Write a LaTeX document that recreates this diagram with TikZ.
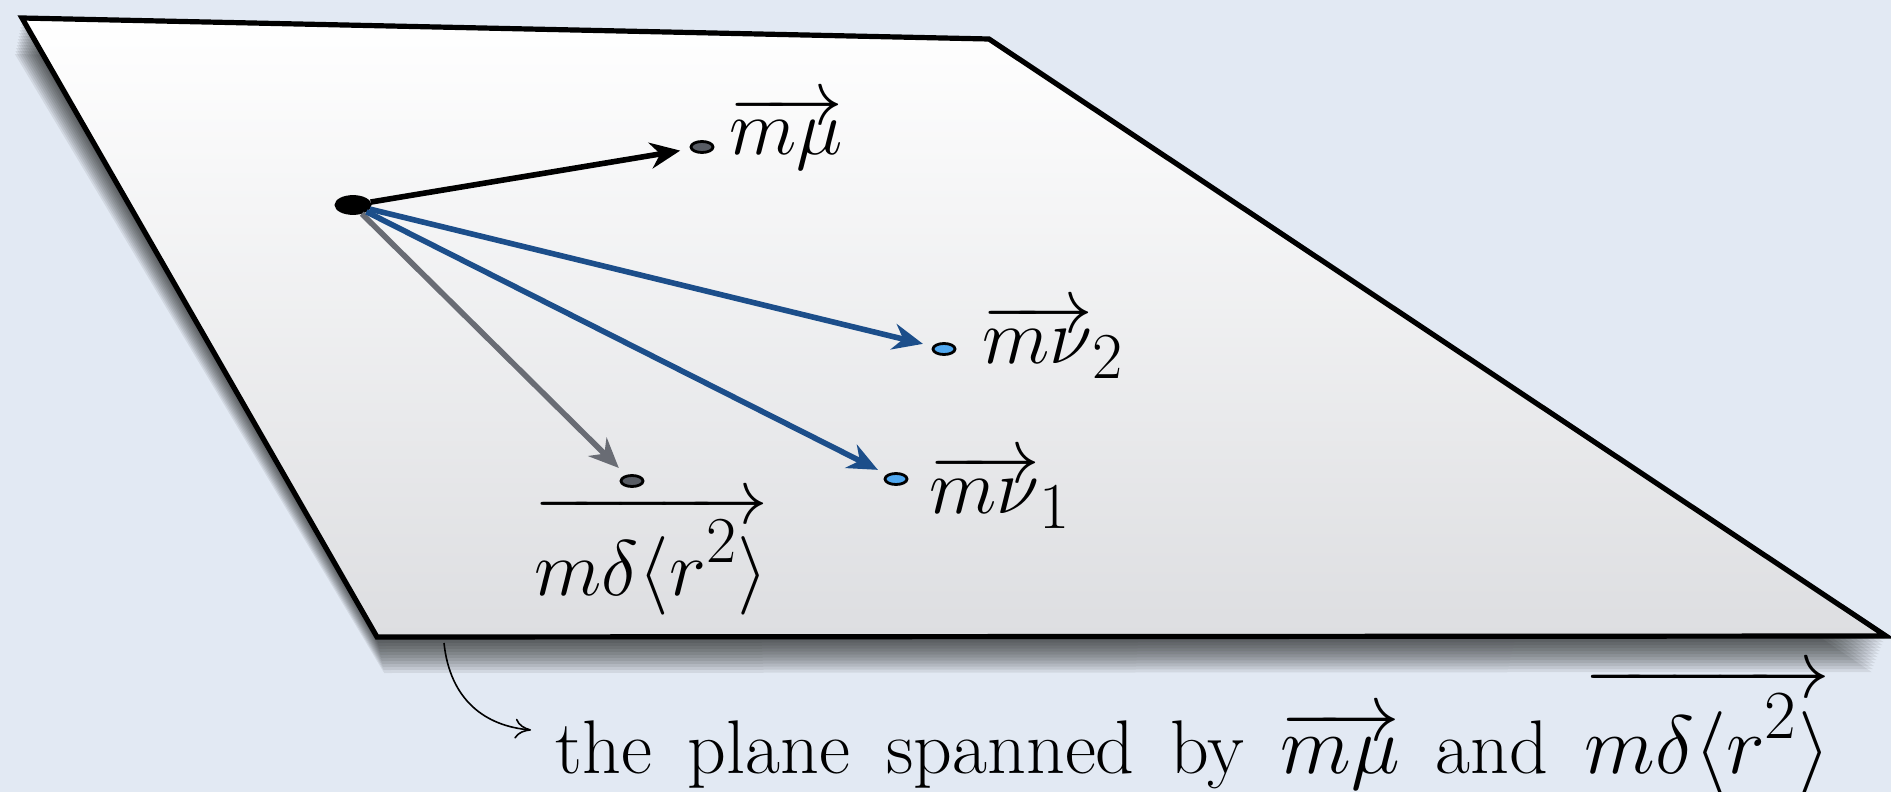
\documentclass[tikz,border=0pt]{standalone}
\usepackage{graphicx}
\usetikzlibrary{arrows.meta,shapes.geometric}
\definecolor{bgpaper}{RGB}{226,233,243}
\definecolor{planebot}{RGB}{221,222,225}
\definecolor{nublue}{RGB}{28,78,138}
\definecolor{nufill}{RGB}{80,168,240}
\definecolor{dotgray}{RGB}{88,92,100}
\definecolor{arrgray}{RGB}{105,108,116}
\newcommand\bigmath[1]{{\fontsize{24.88}{28}\selectfont\scalebox{1.58}{$#1$}}}
\newcommand\capmath[1]{{\fontsize{24.88}{28}\selectfont\scalebox{1.66}{$#1$}}}
\tikzset{
  vec/.style={line width=2.8pt, -{Stealth[length=15pt,width=13pt]}, shorten >=5pt},
  dotnode/.style={ellipse, draw=black, line width=1.4pt, minimum width=11pt, minimum height=5.5pt, inner sep=0pt},
  lbl/.style={font=\fontsize{36}{40}\selectfont, inner sep=0pt},
  caplbl/.style={font=\fontsize{38}{42}\selectfont, inner sep=0pt},
}
\begin{document}
\begin{tikzpicture}[x=0.5pt,y=-0.5pt]
\useasboundingbox (0,0) rectangle (1891,792);
\fill[bgpaper] (0,0) rectangle (1891,792);
% shadow
\foreach \i in {1,...,12}{
  \fill[black, opacity=0.075] ({22-\i*0.6},{18+\i*3}) -- (989,{39+\i*3}) -- ({1886-\i*1.2},{636+\i*3}) -- ({377+\i*0.6},{637+\i*3}) -- cycle;
}
% plane
\shade[top color=white, bottom color=planebot, draw=black, line width=2.6pt, line join=miter]
  (22,18) coordinate (TL) -- (989,39) coordinate (TR) -- (1886,636) coordinate (BR) -- (377,637) coordinate (BL) -- cycle;
% dots
\node[dotnode, fill=black, minimum width=17pt, minimum height=8.5pt] (O) at (353,205) {};
\node[dotnode, fill=dotgray] (mu) at (702,147) {};
\node[dotnode, fill=nufill] (nu2) at (944,349) {};
\node[dotnode, fill=nufill] (nu1) at (896,479) {};
\node[dotnode, fill=dotgray] (dl) at (632,481) {};
% vectors
\draw[vec, arrgray] (O) -- (dl);
\draw[vec, nublue] (O) -- (nu1);
\draw[vec, nublue] (O) -- (nu2);
\draw[vec, black] (O) -- (mu);
% labels
\node[lbl, anchor=base west] (lmu) at (729,155) {\bigmath{\overrightarrow{m\mu}}};
\node[lbl, anchor=base west] (lnu2) at (982,363) {\bigmath{\overrightarrow{m\nu}_2}};
\node[lbl, anchor=base west] (lnu1) at (929,513) {\bigmath{\overrightarrow{m\nu}_1}};
\node[lbl, anchor=base west] (ldl) at (534,595) {\bigmath{\overrightarrow{m\delta\langle r^2\rangle}}};
% caption
\node[caplbl, anchor=base west] (cap) at (555,773) {\spaceskip=18pt the plane spanned by \capmath{\overrightarrow{m\mu}} and \capmath{\overrightarrow{m\delta\langle r^2\rangle}}};
\coordinate (cs) at (444,643);
\coordinate (ce) at (531,730);
\draw[line width=0.8pt, -{To[length=8pt,width=10pt]}] (cs) .. controls (450,700) and (485,726) .. (ce);
\end{tikzpicture}
\end{document}
